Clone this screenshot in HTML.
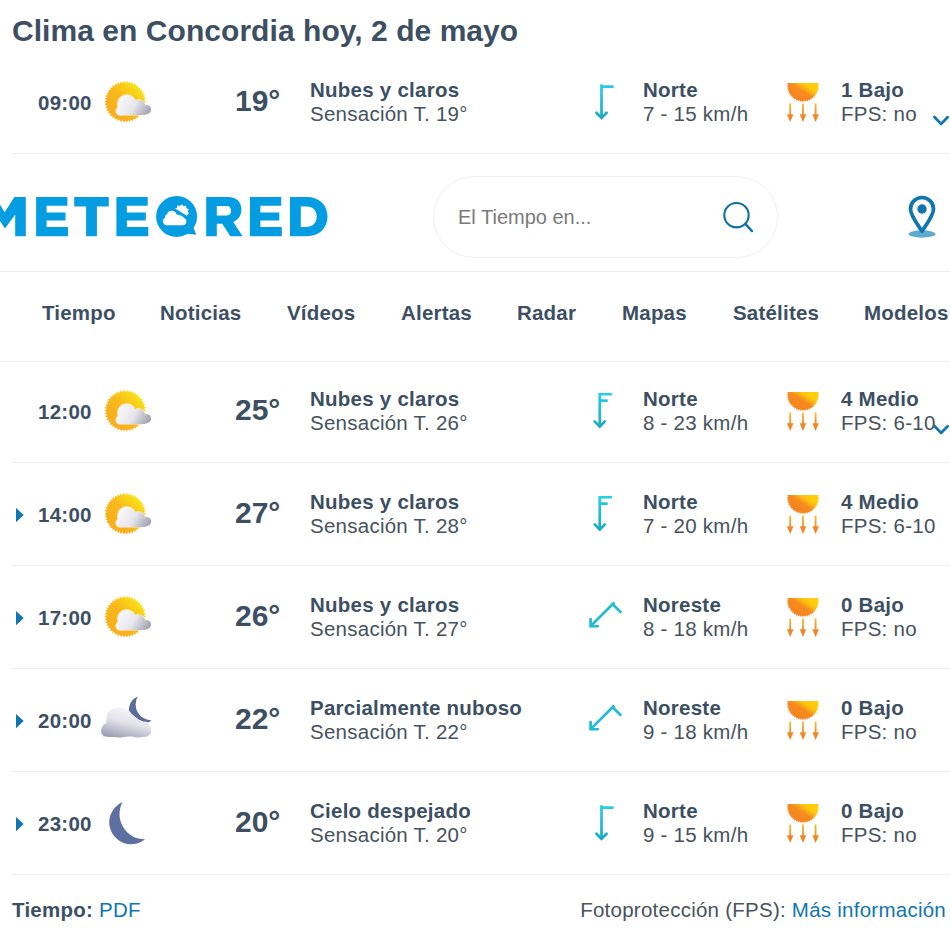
<!DOCTYPE html>
<html><head><meta charset="utf-8"><title>Clima</title>
<style>
*{box-sizing:border-box;margin:0;padding:0}
html,body{width:950px;height:938px;overflow:hidden;background:#fff}
body{font-family:"Liberation Sans",sans-serif;position:relative;color:#47525d}
.abs{position:absolute;white-space:nowrap}
.b{font-weight:bold;color:#3c4f63}
.title{left:12px;top:14px;font-size:30px;line-height:34px;letter-spacing:.05px}
.hl{position:absolute;height:1px;background:#eee}
.t{font-size:20.5px;line-height:24px;letter-spacing:.25px}
.nav{font-size:20.5px;line-height:24px;letter-spacing:.2px;top:301px}
.temp{font-size:30px;line-height:34px;font-weight:bold;color:#3c4f63;left:235px}
.lnk{color:#0f76b0}
.search{position:absolute;left:433px;top:176px;width:345px;height:82px;border:1px solid #efefef;border-radius:41px}
.ph{left:458px;top:205px;font-size:20px;line-height:24px;color:#7a7a7a}
svg{position:absolute;overflow:visible}
.row{position:absolute;left:0;width:950px;height:0}
</style></head><body>
<svg width="0" height="0" style="position:absolute">
<defs>
<linearGradient id="gs" x1="0.15" y1="0.85" x2="0.8" y2="0.1"><stop offset="0" stop-color="#f7ad1e"/><stop offset="0.55" stop-color="#f9b81a"/><stop offset="1" stop-color="#f8e619"/></linearGradient>
<linearGradient id="gc" gradientUnits="userSpaceOnUse" x1="18" y1="20" x2="46" y2="37"><stop offset="0" stop-color="#f6f6fa"/><stop offset="0.45" stop-color="#e6e6ec"/><stop offset="1" stop-color="#9c9cab"/></linearGradient>
<linearGradient id="gn" gradientUnits="userSpaceOnUse" x1="29" y1="13" x2="21" y2="45"><stop offset="0" stop-color="#f7f7fa"/><stop offset="0.45" stop-color="#e2e2e9"/><stop offset="1" stop-color="#9a9db1"/></linearGradient>
<linearGradient id="gu" gradientUnits="userSpaceOnUse" x1="8" y1="17" x2="22" y2="-4"><stop offset="0" stop-color="#f5821f"/><stop offset="0.45" stop-color="#f68b1f"/><stop offset="0.6" stop-color="#fbb015"/><stop offset="0.72" stop-color="#ffc90b"/><stop offset="1" stop-color="#ffce0a"/></linearGradient>
<linearGradient id="ga" x1="0" y1="0" x2="0" y2="1"><stop offset="0" stop-color="#fbbd2a"/><stop offset="0.6" stop-color="#f28a26"/><stop offset="1" stop-color="#ef7f22"/></linearGradient>
<linearGradient id="gw" gradientUnits="userSpaceOnUse" x1="0" y1="2" x2="0" y2="37"><stop offset="0" stop-color="#25cfe6"/><stop offset="1" stop-color="#1aa9c2"/></linearGradient>
<symbol id="suncloud" viewBox="0 0 50 46" overflow="visible">
<path d="M43.20 22.70 L40.95 24.10 L42.97 25.81 L40.53 26.86 L42.27 28.86 L39.71 29.53 L41.13 31.77 L38.49 32.05 L39.57 34.47 L36.92 34.36 L37.62 36.92 L35.02 36.41 L35.33 39.04 L32.83 38.15 L32.75 40.80 L30.41 39.55 L29.94 42.16 L27.81 40.57 L26.95 43.08 L25.09 41.19 L23.86 43.54 L22.30 41.40 L20.74 43.54 L19.51 41.19 L17.65 43.08 L16.79 40.57 L14.66 42.16 L14.19 39.55 L11.85 40.80 L11.77 38.15 L9.27 39.04 L9.58 36.41 L6.98 36.92 L7.68 34.36 L5.03 34.47 L6.11 32.05 L3.47 31.77 L4.89 29.53 L2.33 28.86 L4.07 26.86 L1.63 25.81 L3.65 24.10 L1.40 22.70 L3.65 21.30 L1.63 19.59 L4.07 18.54 L2.33 16.54 L4.89 15.87 L3.47 13.63 L6.11 13.35 L5.03 10.93 L7.68 11.04 L6.98 8.48 L9.58 8.99 L9.27 6.36 L11.77 7.25 L11.85 4.60 L14.19 5.85 L14.66 3.24 L16.79 4.83 L17.65 2.32 L19.51 4.21 L20.74 1.86 L22.30 4.00 L23.86 1.86 L25.09 4.21 L26.95 2.32 L27.81 4.83 L29.94 3.24 L30.41 5.85 L32.75 4.60 L32.83 7.25 L35.33 6.36 L35.02 8.99 L37.62 8.48 L36.92 11.04 L39.57 10.93 L38.49 13.35 L41.13 13.63 L39.71 15.87 L42.27 16.54 L40.53 18.54 L42.97 19.59 L40.95 21.30Z" fill="url(#gs)"/>
<g fill="#fff" stroke="#fff" stroke-width="1.4" opacity=".55"><circle cx="23.7" cy="24.9" r="9.2"/><circle cx="35.5" cy="26.9" r="6.3"/><circle cx="43.5" cy="30.6" r="4.6"/><circle cx="17.1" cy="32" r="4.1"/><path d="M17.1 36.1V28H43.5V35.2Q42 36.1 40 36.1Z"/></g>
<g fill="url(#gc)"><circle cx="23.7" cy="24.9" r="9.2"/><circle cx="35.5" cy="26.9" r="6.3"/><circle cx="43.5" cy="30.6" r="4.6"/><circle cx="17.1" cy="32" r="4.1"/><path d="M17.1 36.1V28H43.5V35.2Q42 36.1 40 36.1Z"/></g>
</symbol>
<symbol id="cloudmoon" viewBox="0 0 54 46" overflow="visible">
<path d="M37.7 1.5 A14 14 0 1 0 51.7 25.4 A16 16 0 0 1 37.7 1.5Z" fill="#5a6d98"/>
<g fill="#fff" stroke="#fff" stroke-width="0.8"><path d="M1.30 35.70 C1.53 32.77 1.50 33.30 3.10 30.60 C4.70 27.90 4.87 30.80 6.10 27.60 C7.33 24.40 5.60 24.93 6.80 21.00 C8.00 17.07 6.77 18.47 9.70 15.80 C12.63 13.13 11.17 13.83 15.60 13.00 C20.03 12.17 18.80 12.47 23.00 13.30 C27.20 14.13 25.73 13.93 28.20 15.50 C30.67 17.07 27.97 15.67 30.40 18.00 C32.83 20.33 31.83 19.77 35.50 22.50 C39.17 25.23 37.23 24.23 41.40 26.20 C45.57 28.17 44.80 25.70 48.00 28.40 C51.20 31.10 50.73 30.37 51.00 34.30 C51.27 38.23 51.73 37.63 48.80 40.20 C45.87 42.77 46.37 41.27 42.20 42.00 C38.03 42.73 40.50 42.53 36.30 42.40 C32.10 42.27 34.77 41.57 29.60 41.60 C24.43 41.63 26.20 42.37 20.80 42.50 C15.40 42.63 18.33 42.30 13.40 42.00 C8.47 41.70 9.67 42.47 6.00 41.60 C2.33 40.73 3.97 41.37 2.40 39.40 C0.83 37.43 1.07 38.63 1.30 35.70Z"/></g>
<g fill="url(#gn)"><path d="M1.30 35.70 C1.53 32.77 1.50 33.30 3.10 30.60 C4.70 27.90 4.87 30.80 6.10 27.60 C7.33 24.40 5.60 24.93 6.80 21.00 C8.00 17.07 6.77 18.47 9.70 15.80 C12.63 13.13 11.17 13.83 15.60 13.00 C20.03 12.17 18.80 12.47 23.00 13.30 C27.20 14.13 25.73 13.93 28.20 15.50 C30.67 17.07 27.97 15.67 30.40 18.00 C32.83 20.33 31.83 19.77 35.50 22.50 C39.17 25.23 37.23 24.23 41.40 26.20 C45.57 28.17 44.80 25.70 48.00 28.40 C51.20 31.10 50.73 30.37 51.00 34.30 C51.27 38.23 51.73 37.63 48.80 40.20 C45.87 42.77 46.37 41.27 42.20 42.00 C38.03 42.73 40.50 42.53 36.30 42.40 C32.10 42.27 34.77 41.57 29.60 41.60 C24.43 41.63 26.20 42.37 20.80 42.50 C15.40 42.63 18.33 42.30 13.40 42.00 C8.47 41.70 9.67 42.47 6.00 41.60 C2.33 40.73 3.97 41.37 2.40 39.40 C0.83 37.43 1.07 38.63 1.30 35.70Z"/></g>
</symbol>
<symbol id="moon" viewBox="0 0 50 50" overflow="visible">
<path d="M19.6 4 A22 22 0 1 0 42.1 41.3 A25.2 25.2 0 0 1 19.6 4Z" fill="#5c6f9e"/>
</symbol>
<symbol id="w1" viewBox="0 0 36 40" overflow="visible">
<path d="M18.5 2.2V35.7M18.5 4.6H30.6" fill="none" stroke="url(#gw)" stroke-width="2.7"/><path d="M13.4 30.7L18.5 35.8L23.6 30.7" fill="none" stroke="url(#gw)" stroke-width="2.7" stroke-linecap="round" stroke-linejoin="miter"/>
</symbol>
<symbol id="w2" viewBox="0 0 36 40" overflow="visible">
<path d="M16.75 1.9V35.4M16.75 3.25H28.9M16.75 9.7H24.7" fill="none" stroke="url(#gw)" stroke-width="2.7"/><path d="M11.65 30.4L16.75 35.5L21.85 30.4" fill="none" stroke="url(#gw)" stroke-width="2.7" stroke-linecap="round" stroke-linejoin="miter"/>
</symbol>
<symbol id="w3" viewBox="0 0 36 40" overflow="visible">
<g transform="translate(18.85 17.95) rotate(45) translate(-18.5 -19.85)"><path d="M18.5 2.2V35.7M18.5 4.6H30.6" fill="none" stroke="#1fbcd5" stroke-width="2.7"/><path d="M13.4 30.7L18.5 35.8L23.6 30.7" fill="none" stroke="#1fbcd5" stroke-width="2.7" stroke-linecap="round" stroke-linejoin="miter"/></g>
</symbol>
<symbol id="uv" viewBox="0 0 32 40" overflow="visible">
<clipPath id="uvc"><rect x="-2" y="0" width="36" height="22"/></clipPath>
<path d="M32.30 2.90 L30.66 3.95 L32.13 5.22 L30.36 6.02 L31.64 7.49 L29.77 8.04 L30.83 9.67 L28.90 9.94 L29.71 11.71 L27.77 11.71 L28.32 13.57 L26.39 13.29 L26.67 15.22 L24.81 14.67 L24.81 16.61 L23.04 15.80 L22.77 17.73 L21.14 16.67 L20.59 18.54 L19.12 17.26 L18.32 19.03 L17.05 17.56 L16.00 19.20 L14.95 17.56 L13.68 19.03 L12.88 17.26 L11.41 18.54 L10.86 16.67 L9.23 17.73 L8.96 15.80 L7.19 16.61 L7.19 14.67 L5.33 15.22 L5.61 13.29 L3.68 13.57 L4.23 11.71 L2.29 11.71 L3.10 9.94 L1.17 9.67 L2.23 8.04 L0.36 7.49 L1.64 6.02 L-0.13 5.22 L1.34 3.95 L-0.30 2.90 L1.34 1.85 L-0.13 0.58 L1.64 -0.22 L0.36 -1.69 L2.23 -2.24 L1.17 -3.87 L3.10 -4.14 L2.29 -5.91 L4.23 -5.91 L3.68 -7.77 L5.61 -7.49 L5.33 -9.42 L7.19 -8.87 L7.19 -10.81 L8.96 -10.00 L9.23 -11.93 L10.86 -10.87 L11.41 -12.74 L12.88 -11.46 L13.68 -13.23 L14.95 -11.76 L16.00 -13.40 L17.05 -11.76 L18.32 -13.23 L19.12 -11.46 L20.59 -12.74 L21.14 -10.87 L22.77 -11.93 L23.04 -10.00 L24.81 -10.81 L24.81 -8.87 L26.67 -9.42 L26.39 -7.49 L28.32 -7.77 L27.77 -5.91 L29.71 -5.91 L28.90 -4.14 L30.83 -3.87 L29.77 -2.24 L31.64 -1.69 L30.36 -0.22 L32.13 0.58 L30.66 1.85Z" fill="url(#gu)" clip-path="url(#uvc)"/>
<g fill="url(#ga)">
<path d="M2.3 20.5h1.8v10.8h2.4l-3.3 7.6l-3.3 -7.6h2.4z"/>
<path d="M15.1 20.5h1.8v10.8h2.4l-3.3 7.6l-3.3 -7.6h2.4z"/>
<path d="M27.7 20.5h1.8v10.8h2.4l-3.3 7.6l-3.3 -7.6h2.4z"/>
</g>
</symbol>
<symbol id="chev" viewBox="0 0 18 10" overflow="visible"><path d="M2.4 2L9 8.9L15.6 2.2" fill="none" stroke="#0f76b0" stroke-width="2.8" stroke-linecap="round" stroke-linejoin="round"/></symbol>
<symbol id="tri" viewBox="0 0 8 14" overflow="visible"><path d="M0 0L7.7 7L0 14.2Z" fill="#0f76b0"/></symbol>
</defs></svg>

<div class="abs b title" id="title">Clima en Concordia hoy, 2 de mayo</div>
<div class="hl" style="left:12px;right:0;top:153px"></div><div class="hl" style="left:12px;right:0;top:462px"></div><div class="hl" style="left:12px;right:0;top:565px"></div><div class="hl" style="left:12px;right:0;top:668px"></div><div class="hl" style="left:12px;right:0;top:771px"></div><div class="hl" style="left:12px;right:0;top:874px"></div>
<div class="hl" style="left:0;right:0;top:271px"></div>
<div class="hl" style="left:0;right:0;top:361px"></div>
<svg width="340" height="60" style="left:0;top:185px" viewBox="0 185 340 60"><g fill="#049de2"><path d="M25.8 196.9V236.3H15.2V214.4L5 228.5L-10 206V196.9H-5L4.7 212.2L14.4 196.9Z"/><path d="M36.1 196.9H67.4V205.8H46.6V212.4H65.5V220.5H46.6V227.1H68.0V236.3H36.1Z"/><path d="M74.2 196.9H108.8V206.4H96.9V236.3H86.1V206.4H74.2Z"/><path d="M116.4 196.9H147.7V205.8H126.9V212.4H145.8V220.5H126.9V227.1H148.3V236.3H116.4Z"/><circle cx="176.6" cy="216.4" r="20.5"/><path d="M192.6 225 L196.2 234.8 L186 233.4Z"/><path fill-rule="evenodd" d="M206.2 196.9H228.3C236.5 196.9 241.4 201.8 241.4 209.2C241.4 215.6 238.2 219.9 233.3 221.9L242.6 236.3H230.4L222.2 223.7H216.8V236.3H206.2Z M216.8 206.1V215.5H226.8C229.6 215.5 231 213.6 231 210.8C231 207.8 229.3 206.1 226.6 206.1Z"/><path d="M249.9 196.9H281.2V205.8H260.4V212.4H279.3V220.5H260.4V227.1H281.8V236.3H249.9Z"/><path fill-rule="evenodd" d="M290 196.9H306.8C319.5 196.9 327.5 205 327.5 216.6C327.5 228 319.5 236.3 306.8 236.3H290Z M300.8 206.4V226.9H306.8C312.8 226.9 316.7 222.8 316.7 216.6C316.7 210.5 312.8 206.4 306.8 206.4Z"/></g><path d="M189.14 213.67 L186.97 215.04 L187.06 217.61 L184.50 217.59 L183.19 219.79 L181.04 218.39 L178.74 219.54 L177.70 217.20 L175.14 216.92 L175.53 214.39 L173.53 212.78 L175.23 210.85 L174.41 208.41 L176.88 207.71 L177.52 205.22 L179.97 205.96 L181.85 204.21 L183.52 206.17 L186.04 205.71 L186.39 208.25 L188.76 209.23 L187.68 211.56Z" fill="#fff"/><path d="M170 205.2 L192 219.1 L192 226 L168 226 Z" fill="#049de2"/><path d="M166.8 225.2 a3.9 3.9 0 0 1 -1.6 -7.4 a3 3 0 0 1 1.8 -3.6 a5.05 5.05 0 0 1 9.6 .2 q5.5 .8 7.6 3.6 a3.8 3.8 0 0 1 -1.4 7.2 Z" fill="#fff"/></svg>
<div class="search"></div>
<div class="abs ph" id="ph">El Tiempo en...</div>
<svg width="30" height="30" style="left:721px;top:200px" viewBox="0 0 30 30"><circle cx="15.5" cy="15.2" r="12.2" fill="none" stroke="#0f70a6" stroke-width="2.1"/><path d="M24.3 23.9L31 31.1" stroke="#0f70a6" stroke-width="2.3" stroke-linecap="round"/></svg>
<svg width="30" height="44" style="left:907px;top:194px" viewBox="0 0 30 44"><ellipse cx="15" cy="40" rx="13.5" ry="3.7" fill="#5fabd0"/><path d="M15 3.5C8.6 3.5 3.5 8.6 3.5 15C3.5 21.5 9.5 28.8 15 37.2C20.5 28.8 26.5 21.5 26.5 15C26.5 8.6 21.4 3.5 15 3.5Z" fill="#fff" stroke="#0f76b0" stroke-width="3.7" stroke-linejoin="round"/><circle cx="15" cy="15" r="4.7" fill="#0f76b0"/></svg>
<div class="abs b nav" id="n0" style="left:42px">Tiempo</div><div class="abs b nav" id="n1" style="left:160px">Noticias</div><div class="abs b nav" id="n2" style="left:287px">Vídeos</div><div class="abs b nav" id="n3" style="left:401px">Alertas</div><div class="abs b nav" id="n4" style="left:517px">Radar</div><div class="abs b nav" id="n5" style="left:622px">Mapas</div><div class="abs b nav" id="n6" style="left:733px">Satélites</div><div class="abs b nav" id="n7" style="left:864px">Modelos</div>
<div class="row" style="top:102px"><div class="abs b t" id="tm0" style="left:38px;top:-11px">09:00</div><svg width="50" height="46" style="left:103px;top:-23px"><use href="#suncloud"/></svg><div class="abs temp" id="tp0" style="top:-18px">19°</div><div class="abs b t" id="da0" style="left:310px;top:-24.5px">Nubes y claros</div><div class="abs t" id="db0" style="left:310px;top:-0.5px">Sensación T. 19°</div><svg width="36" height="40" style="left:583px;top:-20px"><use href="#w1"/></svg><div class="abs b t" id="wa0" style="left:643px;top:-24.5px">Norte</div><div class="abs t" id="wb0" style="left:643px;top:-0.5px">7 - 15 km/h</div><svg width="32" height="40" style="left:787px;top:-19.5px"><use href="#uv"/></svg><div class="abs b t" id="ua0" style="left:841px;top:-24.5px">1 Bajo</div><div class="abs t" id="ub0" style="left:841px;top:-0.5px">FPS: no</div><svg width="18" height="10" style="left:932px;top:13px"><use href="#chev"/></svg></div>
<div class="row" style="top:411px"><div class="abs b t" id="tm1" style="left:38px;top:-11px">12:00</div><svg width="50" height="46" style="left:103px;top:-23px"><use href="#suncloud"/></svg><div class="abs temp" id="tp1" style="top:-18px">25°</div><div class="abs b t" id="da1" style="left:310px;top:-24.5px">Nubes y claros</div><div class="abs t" id="db1" style="left:310px;top:-0.5px">Sensación T. 26°</div><svg width="36" height="40" style="left:583px;top:-20px"><use href="#w2"/></svg><div class="abs b t" id="wa1" style="left:643px;top:-24.5px">Norte</div><div class="abs t" id="wb1" style="left:643px;top:-0.5px">8 - 23 km/h</div><svg width="32" height="40" style="left:787px;top:-19.5px"><use href="#uv"/></svg><div class="abs b t" id="ua1" style="left:841px;top:-24.5px">4 Medio</div><div class="abs t" id="ub1" style="left:841px;top:-0.5px">FPS: 6-10</div><svg width="18" height="10" style="left:932px;top:13px"><use href="#chev"/></svg></div>
<div class="row" style="top:514px"><svg width="8" height="14" style="left:16px;top:-6px"><use href="#tri"/></svg><div class="abs b t" id="tm2" style="left:38px;top:-11px">14:00</div><svg width="50" height="46" style="left:103px;top:-23px"><use href="#suncloud"/></svg><div class="abs temp" id="tp2" style="top:-18px">27°</div><div class="abs b t" id="da2" style="left:310px;top:-24.5px">Nubes y claros</div><div class="abs t" id="db2" style="left:310px;top:-0.5px">Sensación T. 28°</div><svg width="36" height="40" style="left:583px;top:-20px"><use href="#w2"/></svg><div class="abs b t" id="wa2" style="left:643px;top:-24.5px">Norte</div><div class="abs t" id="wb2" style="left:643px;top:-0.5px">7 - 20 km/h</div><svg width="32" height="40" style="left:787px;top:-19.5px"><use href="#uv"/></svg><div class="abs b t" id="ua2" style="left:841px;top:-24.5px">4 Medio</div><div class="abs t" id="ub2" style="left:841px;top:-0.5px">FPS: 6-10</div></div>
<div class="row" style="top:617px"><svg width="8" height="14" style="left:16px;top:-6px"><use href="#tri"/></svg><div class="abs b t" id="tm3" style="left:38px;top:-11px">17:00</div><svg width="50" height="46" style="left:103px;top:-23px"><use href="#suncloud"/></svg><div class="abs temp" id="tp3" style="top:-18px">26°</div><div class="abs b t" id="da3" style="left:310px;top:-24.5px">Nubes y claros</div><div class="abs t" id="db3" style="left:310px;top:-0.5px">Sensación T. 27°</div><svg width="36" height="40" style="left:583px;top:-20px"><use href="#w3"/></svg><div class="abs b t" id="wa3" style="left:643px;top:-24.5px">Noreste</div><div class="abs t" id="wb3" style="left:643px;top:-0.5px">8 - 18 km/h</div><svg width="32" height="40" style="left:787px;top:-19.5px"><use href="#uv"/></svg><div class="abs b t" id="ua3" style="left:841px;top:-24.5px">0 Bajo</div><div class="abs t" id="ub3" style="left:841px;top:-0.5px">FPS: no</div></div>
<div class="row" style="top:720px"><svg width="8" height="14" style="left:16px;top:-6px"><use href="#tri"/></svg><div class="abs b t" id="tm4" style="left:38px;top:-11px">20:00</div><svg width="54" height="46" style="left:100px;top:-25px"><use href="#cloudmoon"/></svg><div class="abs temp" id="tp4" style="top:-18px">22°</div><div class="abs b t" id="da4" style="left:310px;top:-24.5px">Parcialmente nuboso</div><div class="abs t" id="db4" style="left:310px;top:-0.5px">Sensación T. 22°</div><svg width="36" height="40" style="left:583px;top:-20px"><use href="#w3"/></svg><div class="abs b t" id="wa4" style="left:643px;top:-24.5px">Noreste</div><div class="abs t" id="wb4" style="left:643px;top:-0.5px">9 - 18 km/h</div><svg width="32" height="40" style="left:787px;top:-19.5px"><use href="#uv"/></svg><div class="abs b t" id="ua4" style="left:841px;top:-24.5px">0 Bajo</div><div class="abs t" id="ub4" style="left:841px;top:-0.5px">FPS: no</div></div>
<div class="row" style="top:823px"><svg width="8" height="14" style="left:16px;top:-6px"><use href="#tri"/></svg><div class="abs b t" id="tm5" style="left:38px;top:-11px">23:00</div><svg width="50" height="50" style="left:103px;top:-25px"><use href="#moon"/></svg><div class="abs temp" id="tp5" style="top:-18px">20°</div><div class="abs b t" id="da5" style="left:310px;top:-24.5px">Cielo despejado</div><div class="abs t" id="db5" style="left:310px;top:-0.5px">Sensación T. 20°</div><svg width="36" height="40" style="left:583px;top:-20px"><use href="#w1"/></svg><div class="abs b t" id="wa5" style="left:643px;top:-24.5px">Norte</div><div class="abs t" id="wb5" style="left:643px;top:-0.5px">9 - 15 km/h</div><svg width="32" height="40" style="left:787px;top:-19.5px"><use href="#uv"/></svg><div class="abs b t" id="ua5" style="left:841px;top:-24.5px">0 Bajo</div><div class="abs t" id="ub5" style="left:841px;top:-0.5px">FPS: no</div></div>
<div class="abs t" id="f1" style="left:12px;top:898px"><span class="b">Tiempo:</span> <span class="lnk">PDF</span></div>
<div class="abs t" id="f2" style="right:4px;top:898px">Fotoprotección (FPS): <span class="lnk">Más información</span></div>
</body></html>
